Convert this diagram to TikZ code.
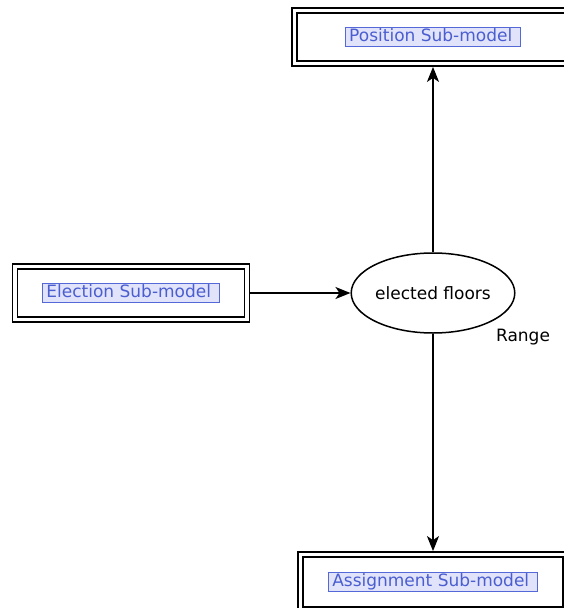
\documentclass[tikz,border=0pt]{standalone}
\usepackage{fontspec}
\setmainfont{DejaVu Sans}
\usetikzlibrary{arrows.meta,shapes.geometric}
\definecolor{hlfill}{HTML}{E1E3FA}
\definecolor{hlline}{HTML}{5468D8}
\definecolor{hltext}{HTML}{4A5ED0}
\newcommand{\hltag}[1]{{\setlength{\fboxsep}{0.8pt}\setlength{\fboxrule}{1.3pt}%
  \fcolorbox{hlline}{hlfill}{\color{hltext}\hspace{2.5pt}\rule[-3.5pt]{0pt}{14pt}#1\hspace{7pt}}}}
\begin{document}
\begin{tikzpicture}[x=1pt,y=-1pt,
  every node/.style={font=\fontsize{17}{20}\selectfont},
  submodel/.style={draw, rectangle, fill=white, line width=1.6pt,
    double=white, double distance=3.6pt, inner sep=0pt, outer sep=3.4pt},
  stateoval/.style={draw, ellipse, line width=1.5pt, inner sep=0pt,
    minimum width=162pt, minimum height=80pt, outer sep=0.75pt},
  flow/.style={-{Stealth[length=15pt,width=12pt,inset=4pt]}, line width=1.5pt}]
\useasboundingbox (0,0) rectangle (563,608);

% sub-model boxes with double borders
\node[submodel, minimum width=277pt, minimum height=53pt] (pos) at (433,37) {\hltag{Position Sub-model}};
\node[submodel, minimum width=232pt, minimum height=53pt] (elec) at (131,293) {\hltag{Election Sub-model}};
\node[submodel, minimum width=265pt, minimum height=55pt] (asg) at (433,582) {\hltag{Assignment Sub-model}};

% central state
\node[stateoval] (floors) at (433,293) {elected floors};
\node (range) at (523,337) {Range};

% flows
\draw[flow] (elec.east) -- (floors.west);
\draw[flow] (floors.north) -- (pos.south);
\draw[flow] (floors.south) -- (asg.north);
\end{tikzpicture}
\end{document}
